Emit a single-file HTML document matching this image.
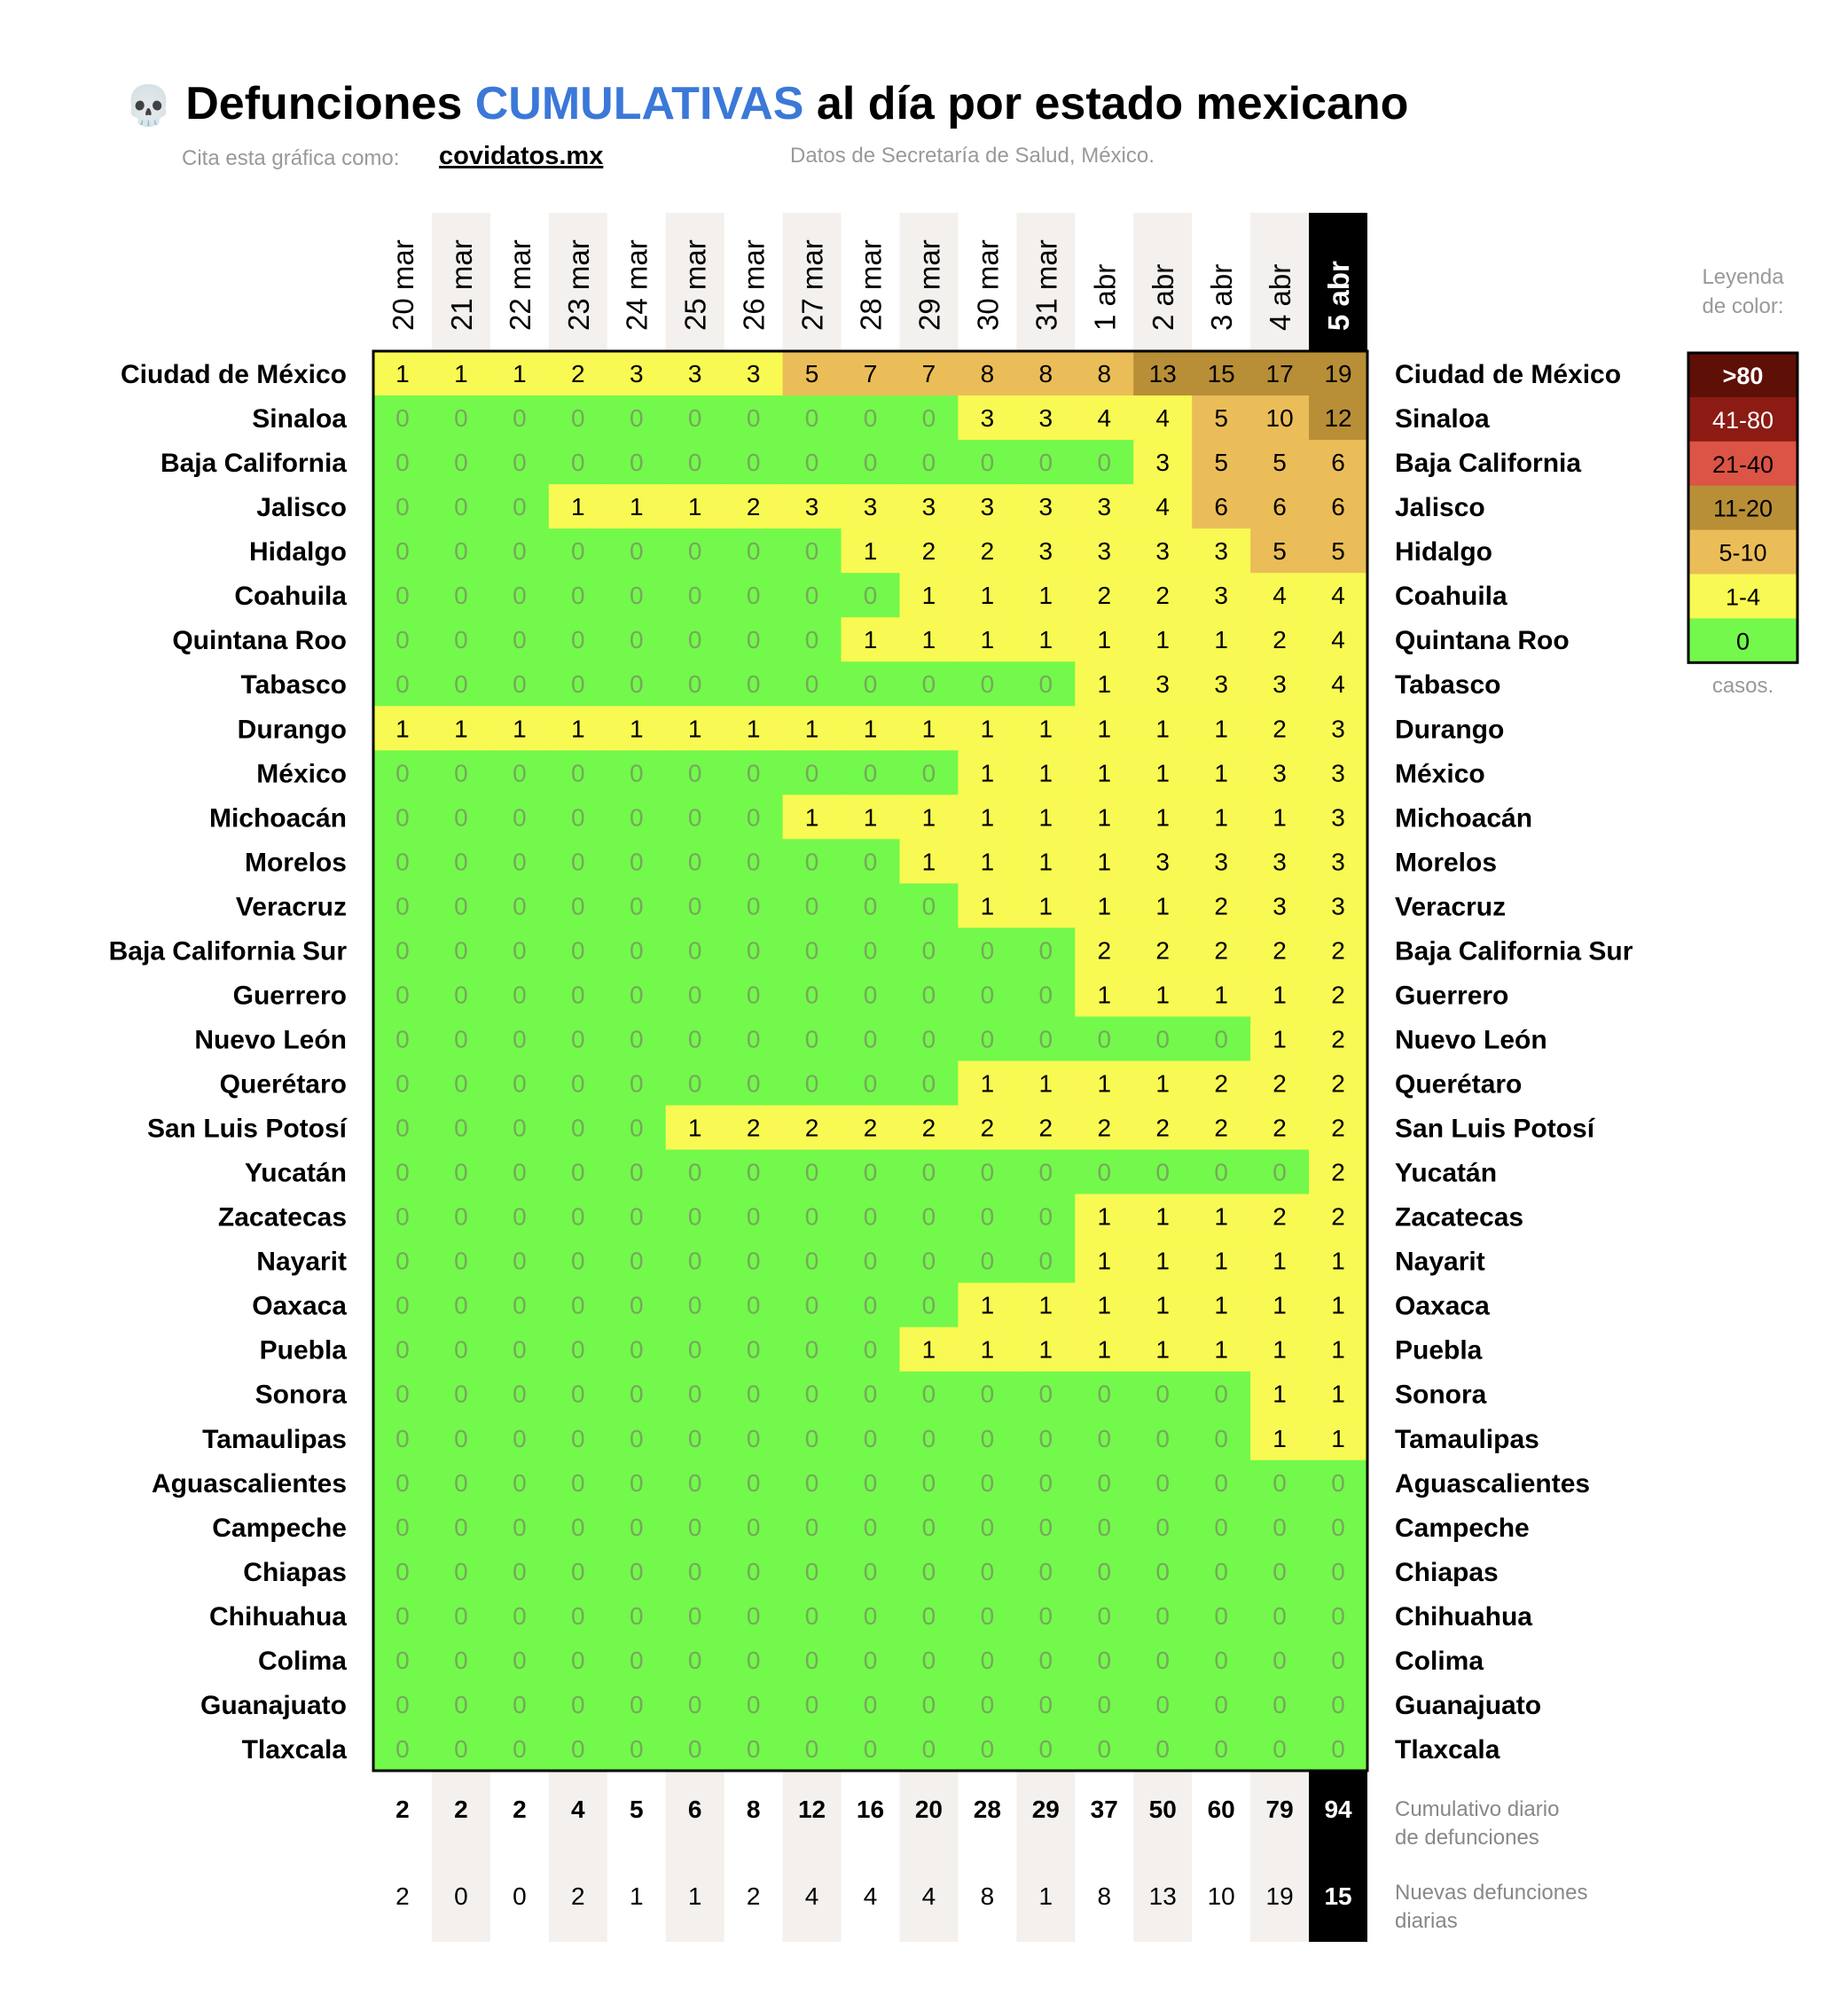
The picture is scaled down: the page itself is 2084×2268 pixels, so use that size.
<!DOCTYPE html>
<html><head><meta charset="utf-8"><style>
html,body{margin:0;padding:0;background:#fff;}
svg{display:block;font-family:"Liberation Sans",sans-serif;}
</style></head><body>
<svg id="chart" width="2084" height="2268" viewBox="0 0 2084 2268" xmlns="http://www.w3.org/2000/svg">
<text x="140" y="134" font-size="52" font-weight="bold" fill="#000"><tspan font-family="DejaVu Sans" font-size="44">💀</tspan> Defunciones <tspan fill="#3b78d8">CUMULATIVAS</tspan> al día por estado mexicano</text>
<text x="205" y="186" font-size="24" fill="#999">Cita esta gráfica como:</text>
<text x="495" y="185" font-size="29" font-weight="bold" fill="#000" text-decoration="underline">covidatos.mx</text>
<text x="891" y="183" font-size="24" fill="#999">Datos de Secretaría de Salud, México.</text>
<g id="g"></g>
</svg>
<script>
const dates=["20 mar","21 mar","22 mar","23 mar","24 mar","25 mar","26 mar","27 mar","28 mar","29 mar","30 mar","31 mar","1 abr","2 abr","3 abr","4 abr","5 abr"];
const states=["Ciudad de México","Sinaloa","Baja California","Jalisco","Hidalgo","Coahuila","Quintana Roo","Tabasco","Durango","México","Michoacán","Morelos","Veracruz","Baja California Sur","Guerrero","Nuevo León","Querétaro","San Luis Potosí","Yucatán","Zacatecas","Nayarit","Oaxaca","Puebla","Sonora","Tamaulipas","Aguascalientes","Campeche","Chiapas","Chihuahua","Colima","Guanajuato","Tlaxcala"];
const values=[
[1,1,1,2,3,3,3,5,7,7,8,8,8,13,15,17,19],
[0,0,0,0,0,0,0,0,0,0,3,3,4,4,5,10,12],
[0,0,0,0,0,0,0,0,0,0,0,0,0,3,5,5,6],
[0,0,0,1,1,1,2,3,3,3,3,3,3,4,6,6,6],
[0,0,0,0,0,0,0,0,1,2,2,3,3,3,3,5,5],
[0,0,0,0,0,0,0,0,0,1,1,1,2,2,3,4,4],
[0,0,0,0,0,0,0,0,1,1,1,1,1,1,1,2,4],
[0,0,0,0,0,0,0,0,0,0,0,0,1,3,3,3,4],
[1,1,1,1,1,1,1,1,1,1,1,1,1,1,1,2,3],
[0,0,0,0,0,0,0,0,0,0,1,1,1,1,1,3,3],
[0,0,0,0,0,0,0,1,1,1,1,1,1,1,1,1,3],
[0,0,0,0,0,0,0,0,0,1,1,1,1,3,3,3,3],
[0,0,0,0,0,0,0,0,0,0,1,1,1,1,2,3,3],
[0,0,0,0,0,0,0,0,0,0,0,0,2,2,2,2,2],
[0,0,0,0,0,0,0,0,0,0,0,0,1,1,1,1,2],
[0,0,0,0,0,0,0,0,0,0,0,0,0,0,0,1,2],
[0,0,0,0,0,0,0,0,0,0,1,1,1,1,2,2,2],
[0,0,0,0,0,1,2,2,2,2,2,2,2,2,2,2,2],
[0,0,0,0,0,0,0,0,0,0,0,0,0,0,0,0,2],
[0,0,0,0,0,0,0,0,0,0,0,0,1,1,1,2,2],
[0,0,0,0,0,0,0,0,0,0,0,0,1,1,1,1,1],
[0,0,0,0,0,0,0,0,0,0,1,1,1,1,1,1,1],
[0,0,0,0,0,0,0,0,0,1,1,1,1,1,1,1,1],
[0,0,0,0,0,0,0,0,0,0,0,0,0,0,0,1,1],
[0,0,0,0,0,0,0,0,0,0,0,0,0,0,0,1,1],
[0,0,0,0,0,0,0,0,0,0,0,0,0,0,0,0,0],
[0,0,0,0,0,0,0,0,0,0,0,0,0,0,0,0,0],
[0,0,0,0,0,0,0,0,0,0,0,0,0,0,0,0,0],
[0,0,0,0,0,0,0,0,0,0,0,0,0,0,0,0,0],
[0,0,0,0,0,0,0,0,0,0,0,0,0,0,0,0,0],
[0,0,0,0,0,0,0,0,0,0,0,0,0,0,0,0,0],
[0,0,0,0,0,0,0,0,0,0,0,0,0,0,0,0,0]];
const cumulative=[2,2,2,4,5,6,8,12,16,20,28,29,37,50,60,79,94];
const newDeaths=[2,0,0,2,1,1,2,4,4,4,8,1,8,13,10,19,15];
const legendLabels=[">80","41-80","21-40","11-20","5-10","1-4","0"];
const legendColors=["#5e0f06","#8b1b13","#dc5445","#b88f36","#ebbd58","#f9f953","#72f94b"];

const NS="http://www.w3.org/2000/svg";
const g=document.getElementById('g');
const X0=421,CW=1121/dates.length,Y0=396,RH=1601/states.length,HTOP=240,BOT=2190;
const xs=i=>X0+i*CW, ys=j=>Y0+j*RH;
function mk(t,a,txt){const e=document.createElementNS(NS,t);for(const k in a)e.setAttribute(k,a[k]);if(txt!=null)e.textContent=txt;g.appendChild(e);return e;}
function color(v){if(v>80)return legendColors[0];if(v>40)return legendColors[1];if(v>20)return legendColors[2];if(v>10)return legendColors[3];if(v>=5)return legendColors[4];if(v>=1)return legendColors[5];return legendColors[6];}
const last=dates.length-1;
dates.forEach((d,i)=>{
  if(i%2===1||i===last){
    const r=mk('rect',{x:xs(i),y:HTOP,width:CW,height:BOT-HTOP,fill:i===last?'#000':'#f3f0ed'});
    
    
  }
  const t=mk('text',{x:0,y:0,transform:`translate(${xs(i)+CW/2+12},373) rotate(-90)`,'font-size':33,fill:i===last?'#fff':'#000','font-weight':i===last?'bold':'normal'},d);
  
  
});
states.forEach((s,j)=>{
  values[j].forEach((v,i)=>{
    const r=mk('rect',{x:xs(i),y:ys(j),width:CW+0.6,height:RH+0.6,fill:color(v)});
    
    
    const t=mk('text',{x:xs(i)+CW/2,y:ys(j)+RH/2+10,'text-anchor':'middle','font-size':28,fill:v===0?'#77a85c':(v>40?'#fff':'#000')},v);
    
    
  });
  const l=mk('text',{x:391,y:ys(j)+RH/2+11,'text-anchor':'end','font-size':30,'font-weight':'bold'},s);
  
  
  const r2=mk('text',{x:1573,y:ys(j)+RH/2+11,'font-size':30,'font-weight':'bold'},s);
  
  
});
const border=mk('rect',{x:X0,y:Y0,width:1121,height:1601,fill:'none',stroke:'#000','stroke-width':3});


dates.forEach((d,i)=>{
  const c=mk('text',{x:xs(i)+CW/2,y:2050,'text-anchor':'middle','font-size':28,'font-weight':'bold',fill:i===last?'#fff':'#000'},cumulative[i]);
  
  
  const n=mk('text',{x:xs(i)+CW/2,y:2148,'text-anchor':'middle','font-size':28,'font-weight':i===last?'bold':'normal',fill:i===last?'#fff':'#000'},newDeaths[i]);
  
  
});
[["Cumulativo diario",2048],["de defunciones",2080],["Nuevas defunciones",2142],["diarias",2174]].forEach(([t,y])=>{
  const e=mk('text',{x:1573,y:y,'font-size':24,fill:'#888'},t);
  
  
});
const LX=1904,LW=123,LY=398,LH=49.9;
[["Leyenda",320],["de color:",353],["casos.",781]].forEach(([t,y])=>{
  const e=mk('text',{x:LX+LW/2,y:y,'text-anchor':'middle','font-size':24,fill:'#999'},t);
  
  
});
legendLabels.forEach((lab,k)=>{
  const r=mk('rect',{x:LX,y:LY+k*LH,width:LW,height:LH+0.5,fill:legendColors[k]});
  
  
  const t=mk('text',{x:LX+LW/2,y:LY+k*LH+LH/2+10,'text-anchor':'middle','font-size':27,'font-weight':k===0?'bold':'normal',fill:k<2?'#fff':'#000'},lab);
  
  
});
const lb=mk('rect',{x:LX,y:LY,width:LW,height:LH*7,fill:'none',stroke:'#000','stroke-width':3});


</script>
</body></html>
